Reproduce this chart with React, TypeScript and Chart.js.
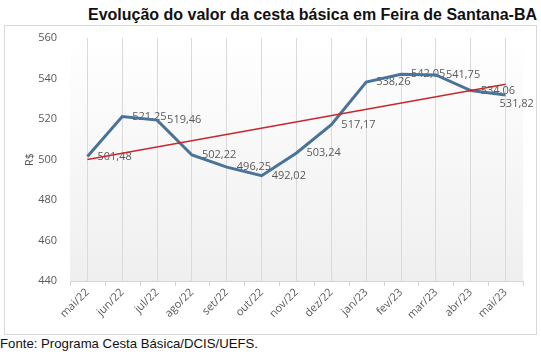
import React, { useEffect, useRef } from "react";
import { Chart, registerables } from "chart.js";

Chart.register(...registerables);

const categories = ["mai/22", "jun/22", "jul/22", "ago/22", "set/22", "out/22", "nov/22", "dez/22", "jan/23", "fev/23", "mar/23", "abr/23", "mai/23"];
const values = [501.48, 521.25, 519.46, 502.22, 496.25, 492.02, 503.24, 517.17, 538.26, 542.05, 541.75, 534.06, 531.82];
const trendValues = [499.95, null, null, null, null, null, null, null, null, null, null, null, 537.13];
const yMin = 440;
const yMax = 560;
const yStep = 20;
const titleText = "Evolução do valor da cesta básica em Feira de Santana-BA";
const footerText = "Fonte: Programa Cesta Básica/DCIS/UEFS.";
const yTitle = "R$";

const fmt = (v: number) => v.toFixed(2).replace(".", ",");

const bgPlugin = {
  id: "plotBg",
  beforeDraw(chart: any) {
    const { ctx, chartArea } = chart;
    const g = ctx.createLinearGradient(0, chartArea.top, 0, chartArea.bottom);
    g.addColorStop(0, "#ffffff");
    g.addColorStop(1, "#efefef");
    ctx.save();
    ctx.fillStyle = g;
    ctx.fillRect(chartArea.left, chartArea.top, chartArea.right - chartArea.left, chartArea.bottom - chartArea.top);
    ctx.restore();
  },
};

const tickPlugin = {
  id: "boundaryTicks",
  afterDraw(chart: any) {
    const { ctx, chartArea } = chart;
    const xs = chart.scales.x;
    ctx.save();
    ctx.strokeStyle = "#d4d4d4";
    ctx.lineWidth = 1;
    for (let i = 0; i <= categories.length; i++) {
      const x = Math.round(xs.getPixelForValue(i - 0.5)) + 0.5;
      ctx.beginPath();
      ctx.moveTo(x, chartArea.bottom);
      ctx.lineTo(x, chartArea.bottom + 5);
      ctx.stroke();
    }
    ctx.restore();
  },
};

const labelPlugin = {
  id: "dataLabels",
  beforeDatasetsDraw(chart: any) {
    const { ctx } = chart;
    const meta = chart.getDatasetMeta(0);
    ctx.save();
    ctx.font = "11px 'Open Sans'";
    ctx.fillStyle = "#595959";
    ctx.textBaseline = "middle";
    ctx.textAlign = "left";
    meta.data.forEach((pt: any, i: number) => {
      const last = i === values.length - 1;
      const dx = last ? -6 : 10;
      const dy = last ? 9 : 0;
      ctx.fillText(fmt(values[i]), pt.x + dx, pt.y + dy);
    });
    ctx.restore();
  },
};

export default function App() {
  const ref = useRef<HTMLCanvasElement>(null);
  useEffect(() => {
    const chart = new Chart(ref.current!, {
      type: "line",
      data: {
        labels: categories,
        datasets: [
          {
            data: values,
            borderColor: "#4a7399",
            borderWidth: 3,
            pointRadius: 0,
            tension: 0,
            order: 2,
          },
          {
            data: trendValues as any,
            borderColor: "#c8282d",
            borderWidth: 1.5,
            pointRadius: 0,
            spanGaps: true,
            order: 1,
          },
        ],
      },
      options: {
        responsive: false,
        animation: false,
        layout: { padding: { left: 0, right: 13, top: 12, bottom: 0 } },
        plugins: { legend: { display: false }, tooltip: { enabled: false }, title: { display: false } },
        scales: {
          x: {
            offset: true,
            grid: { offset: false, color: "#dadada", drawTicks: false },
            border: { display: true, color: "#d4d4d4" },
            ticks: {
              minRotation: 45,
              maxRotation: 45,
              padding: 5,
              color: "#595959",
              font: { family: "'Open Sans'", size: 11 },
              autoSkip: false,
            },
            afterFit: (s: any) => {
              s.height = 53;
            },
          },
          y: {
            min: yMin,
            max: yMax,
            grid: { display: false, drawTicks: true, tickLength: 10 },
            border: { display: false },
            ticks: {
              stepSize: yStep,
              padding: 3,
              color: "#595959",
              font: { family: "'Open Sans'", size: 11 },
            },
            title: {
              display: true,
              text: yTitle,
              color: "#595959",
              font: { family: "'Open Sans'", size: 11 },
              padding: { top: 18, bottom: 0 },
            },
            afterFit: (s: any) => {
              s.width = 65;
            },
          },
        },
      },
      plugins: [bgPlugin, tickPlugin, labelPlugin],
    });
    return () => chart.destroy();
  }, []);

  return (
    <div style={{ position: "absolute", left: 0, top: 0, width: 541, height: 354, background: "#fff", overflow: "hidden" }}>
      <div
        style={{
          position: "absolute",
          left: 88,
          top: 6,
          fontFamily: "'Liberation Sans', Arial, sans-serif",
          fontWeight: "bold",
          fontSize: 16,
          lineHeight: "18px",
          color: "#111",
          whiteSpace: "nowrap",
        }}
      >
        {titleText}
      </div>
      <div
        style={{
          position: "absolute",
          left: 4,
          top: 25,
          width: 531,
          height: 308,
          border: "1px solid #d9d9d9",
        }}
      >
        <canvas ref={ref} width={531} height={308} style={{ display: "block" }} />
      </div>
      <div
        style={{
          position: "absolute",
          left: 0,
          top: 336,
          fontFamily: "'Liberation Sans', Arial, sans-serif",
          fontSize: 13.2,
          lineHeight: "16px",
          color: "#111",
          whiteSpace: "nowrap",
        }}
      >
        {footerText}
      </div>
    </div>
  );
}
